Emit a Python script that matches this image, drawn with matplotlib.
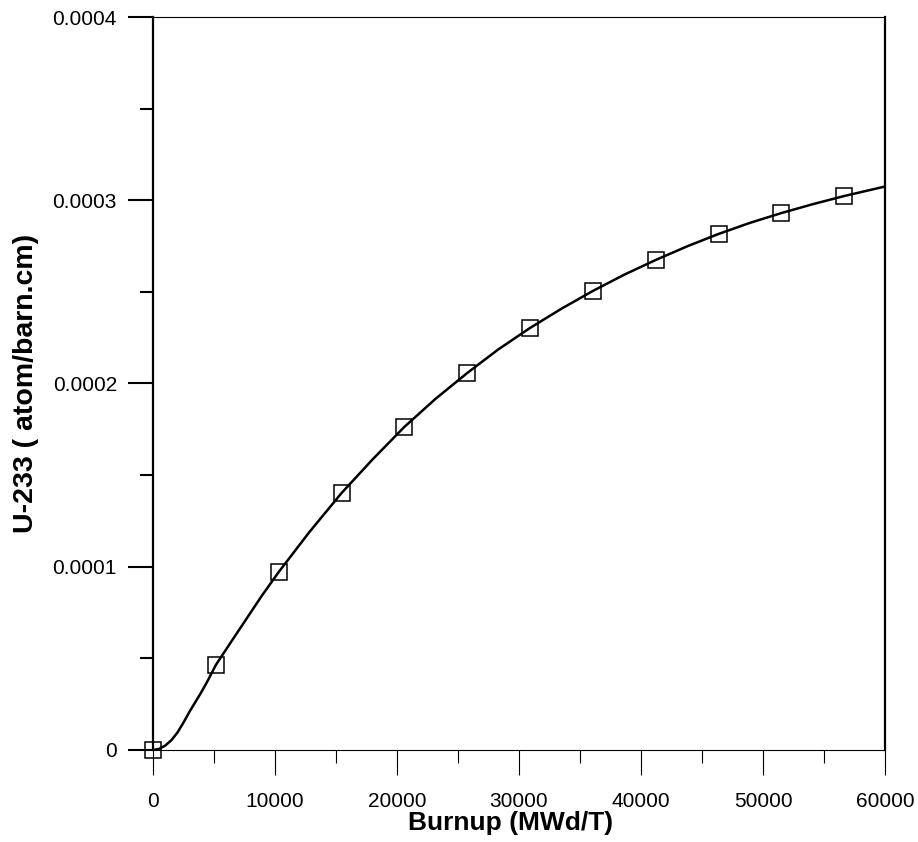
import numpy as np
import matplotlib
matplotlib.use('Agg')
import matplotlib.pyplot as plt
from matplotlib.ticker import MultipleLocator, FuncFormatter

plt.rcParams['font.family'] = ['Liberation Sans', 'DejaVu Sans']

# Marker data (burnup, U-233 density)
burnup_pts = [0, 5150, 10300, 15450, 20600, 25750, 30900, 36050, 41200, 46350, 51500, 56650]
u233_pts = [0.0, 4.64e-5, 9.71e-5, 1.402e-4, 1.763e-4, 2.057e-4, 2.303e-4,
            2.505e-4, 2.674e-4, 2.816e-4, 2.930e-4, 3.023e-4]

# Fitted curve
burnup_curve = [0, 500, 1000, 1500, 2000, 2500, 3000, 3500, 4000, 4500, 5150, 6300,
                7500, 8900, 10300, 12800, 15450, 18000, 20600, 23150, 25750, 28300,
                30900, 33500, 36050, 38600, 41200, 43800, 46350, 48900, 51500, 54100,
                56650, 60000]
u233_curve = [0.0, 0.6e-6, 2.4e-6, 5.3e-6, 9.5e-6, 1.5e-5, 2.1e-5, 2.65e-5, 3.2e-5,
              3.8e-5, 4.64e-5, 5.8e-5, 7.0e-5, 8.4e-5, 9.71e-5, 1.188e-4, 1.402e-4,
              1.586e-4, 1.763e-4, 1.916e-4, 2.057e-4, 2.186e-4, 2.303e-4, 2.409e-4,
              2.505e-4, 2.593e-4, 2.674e-4, 2.749e-4, 2.816e-4, 2.876e-4, 2.930e-4,
              2.979e-4, 3.023e-4, 3.075e-4]

fig = plt.figure(figsize=(9.18, 8.42), dpi=100)
ax = fig.add_axes([0.1667, 0.1093, 0.7974, 0.8705])

ax.plot(burnup_curve, u233_curve, color='black', linewidth=1.8,
        solid_joinstyle='round', zorder=2)
ax.plot(burnup_pts, u233_pts, linestyle='none', marker='s', markersize=11.5,
        markerfacecolor='none', markeredgecolor='black', markeredgewidth=1.1,
        clip_on=False, zorder=3)

ax.set_xlim(0, 60000)
ax.set_ylim(0, 0.0004)
ax.xaxis.set_major_locator(MultipleLocator(10000))
ax.xaxis.set_minor_locator(MultipleLocator(5000))
ax.yaxis.set_major_locator(MultipleLocator(0.0001))
ax.yaxis.set_minor_locator(MultipleLocator(0.00005))
ax.yaxis.set_major_formatter(FuncFormatter(lambda v, p: '0' if abs(v) < 1e-12 else f'{v:.4f}'))
ax.xaxis.set_major_formatter(FuncFormatter(lambda v, p: f'{v:.0f}'))

ax.tick_params(axis='both', which='both', direction='out', labelsize=15, colors='black')
ax.tick_params(axis='y', which='major', length=18, width=1.5, pad=8)
ax.tick_params(axis='y', which='minor', length=9.5, width=1.5)
ax.tick_params(axis='x', which='major', length=18, width=0.8, pad=12)
ax.tick_params(axis='x', which='minor', length=9.5, width=0.8)

ax.spines['left'].set_linewidth(1.6)
ax.spines['right'].set_linewidth(1.6)
ax.spines['top'].set_linewidth(0.8)
ax.spines['bottom'].set_linewidth(0.8)

ax.set_xlabel('Burnup (MWd/T)', fontsize=19, fontweight='bold')
ax.set_ylabel('U-233 ( atom/barn.cm)', fontsize=20.5, fontweight='bold', labelpad=9.5)
# the reference label sits a little left of the axes centre
ax.xaxis.set_label_coords(0.489, -0.083)

fig.savefig('out.png', dpi=100)
